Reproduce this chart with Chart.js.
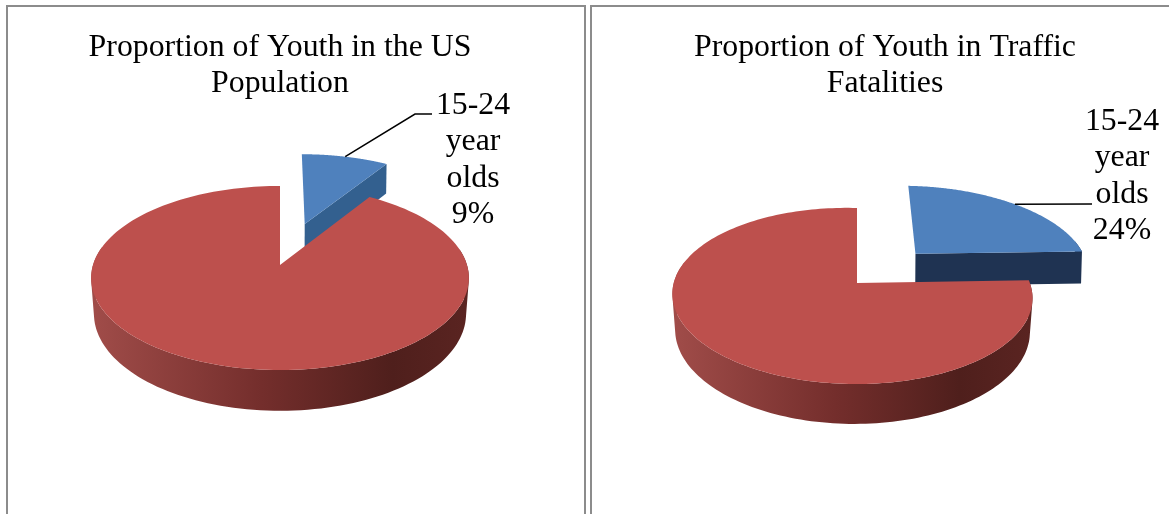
<!DOCTYPE html>
<html>
<head>
<meta charset="utf-8">
<script src="https://cdn.jsdelivr.net/npm/chart.js@4"></script>
<style>
  html, body { margin: 0; padding: 0; background: #fff; overflow: hidden; width: 1169px; height: 514px; }
  canvas { position: absolute; top: 6px; }
  .rule { position: absolute; background: #8c8c8c; }
</style>
</head>
<body>
<div class="rule" style="left:6px;top:5px;width:579px;height:2px"></div>
<div class="rule" style="left:590px;top:5px;width:579px;height:2px"></div>
<div class="rule" style="left:6px;top:5px;width:2px;height:509px"></div>
<div class="rule" style="left:584px;top:5px;width:2px;height:509px"></div>
<div class="rule" style="left:590px;top:5px;width:2px;height:509px"></div>
<canvas id="usChart" style="left:8px" width="544" height="508"></canvas>
<canvas id="fatalChart" style="left:592px" width="586" height="508"></canvas>
<script>
const categories = ['15-24 year olds', 'Other ages'];
const usValues = [9, 91];
const fatalValues = [24, 76];
const usTitle = ['Proportion of Youth in the US', 'Population'];
const fatalTitle = ['Proportion of Youth in Traffic', 'Fatalities'];
const colors = ['#4f81bd', '#bd504d'];
const explode = [82, 0];

// tilted-disc projection, canvas px. m is per slice: the exploded one sits differently
const usView = { x0: 272, y0: 259, a: 90.2, b: 187, k: 0.1413, m: [0, 0], tilt: 0, h: 35, blueWall: '#33608f',
  label: { x: 465, y: 108 }, elbow: [[407, 108], [424, 108]] };
const fatalView = { x0: 265, y0: 277, a: 86.1, b: 178, k: 0.1477, m: [0, -0.025], tilt: 2.5, h: 34, blueWall: '#1f3352',
  label: { x: 530, y: 124 }, elbow: [[500, 198]] };
const taper = [0.004, 0.015];

function project(view, u, v, z, slice) {
  const w = 1 - view.k * v - view.m[slice] * u;
  return {
    x: view.x0 + view.b * u * (1 - taper[slice] * z) / w,
    y: view.y0 + (view.a * v + z * view.h) / w + view.tilt * u
  };
}

function outline(arc) {
  const p = arc.getProps(['startAngle', 'endAngle', 'outerRadius']);
  const mid = (p.startAngle + p.endAngle) / 2;
  const off = (arc.options.offset || 0) / p.outerRadius;
  const ox = Math.cos(mid) * off, oy = Math.sin(mid) * off;
  const pts = [[ox, oy, 0]];
  const steps = 180;
  for (let i = 0; i <= steps; i++) {
    const t = p.startAngle + (p.endAngle - p.startAngle) * i / steps;
    pts.push([ox + Math.cos(t), oy + Math.sin(t), Math.sin(t)]);
  }
  return pts;
}

// adds one wall quad to the open path, keeping its winding the same as the others
function addQuad(ctx, view, a, b, slice) {
  let q = [project(view, a[0], a[1], 0, slice), project(view, b[0], b[1], 0, slice),
           project(view, b[0], b[1], 1, slice), project(view, a[0], a[1], 1, slice)];
  let area = 0;
  q.forEach((s, n) => {
    const e = q[(n + 1) % 4];
    area += s.x * e.y - e.x * s.y;
  });
  if (area < 0) q = q.reverse();
  ctx.moveTo(q[0].x, q[0].y);
  for (let n = 1; n < 4; n++) ctx.lineTo(q[n].x, q[n].y);
  ctx.closePath();
}

const disc3d = {
  id: 'disc3d',
  beforeDatasetsDraw(chart) {
    const view = chart.options.plugins.disc3d.view;
    const ctx = chart.ctx;
    const arcs = chart.getDatasetMeta(0).data;
    const left = project(view, -1, 0, 0, 1).x, right = project(view, 1, 0, 0, 1).x;
    const grad = ctx.createLinearGradient(left, 0, right, 0);
    grad.addColorStop(0, '#a04c49');
    grad.addColorStop(0.45, '#742e2c');
    grad.addColorStop(0.8, '#4f1f1c');
    grad.addColorStop(1, '#5a2421');
    arcs.forEach((arc, i) => {
      const pts = outline(arc);
      ctx.fillStyle = i === 0 ? view.blueWall : grad;
      ctx.beginPath();
      addQuad(ctx, view, pts[0], pts[pts.length - 1], i); // cut face at the end of the sweep
      for (let j = 1; j < pts.length - 1; j++) {
        if (pts[j][2] > -0.2) addQuad(ctx, view, pts[j], pts[j + 1], i); // front of the rim only
      }
      ctx.fill();
      ctx.beginPath();
      pts.forEach((q, n) => {
        const s = project(view, q[0], q[1], 0, i);
        if (n === 0) ctx.moveTo(s.x, s.y); else ctx.lineTo(s.x, s.y);
      });
      ctx.closePath();
      ctx.fillStyle = arc.options.backgroundColor;
      ctx.fill();
    });
    return false; // slices are painted above instead of the flat default
  },
  afterDraw(chart) {
    const view = chart.options.plugins.disc3d.view;
    const ctx = chart.ctx;
    const arc = chart.getDatasetMeta(0).data[0];
    const p = arc.getProps(['startAngle', 'endAngle', 'outerRadius']);
    const mid = (p.startAngle + p.endAngle) / 2;
    const reach = 1 + arc.options.offset / p.outerRadius;
    const from = project(view, Math.cos(mid) * reach, Math.sin(mid) * reach, 0, 0);
    ctx.beginPath();
    ctx.moveTo(from.x, from.y);
    view.elbow.forEach(e => ctx.lineTo(e[0], e[1]));
    ctx.strokeStyle = '#000';
    ctx.lineWidth = 1.5;
    ctx.stroke();

    const words = categories[0].split(' ');
    const lines = [words[0], words[1], words[2], chart.data.datasets[0].data[0] + '%'];
    ctx.fillStyle = '#000';
    ctx.font = '31.8px "Liberation Serif"';
    ctx.textAlign = 'center';
    ctx.textBaseline = 'alphabetic';
    lines.forEach((t, i) => ctx.fillText(t, view.label.x, view.label.y + i * 36.3));
  }
};

function makePie(id, values, title, view) {
  return new Chart(document.getElementById(id), {
    type: 'pie',
    data: {
      labels: categories,
      datasets: [{ data: values, backgroundColor: colors, borderWidth: 0, offset: explode, hoverOffset: 0 }]
    },
    options: {
      responsive: false,
      animation: false,
      events: [],
      plugins: {
        legend: { display: false },
        tooltip: { enabled: false },
        title: {
          display: true,
          text: title,
          color: '#000',
          padding: { top: 24, bottom: 6 },
          font: { family: '"Liberation Serif"', size: 31.8, weight: 'normal', lineHeight: 1.13 }
        },
        disc3d: { view: view }
      }
    },
    plugins: [disc3d]
  });
}

makePie('usChart', usValues, usTitle, usView);
makePie('fatalChart', fatalValues, fatalTitle, fatalView);
</script>
</body>
</html>
